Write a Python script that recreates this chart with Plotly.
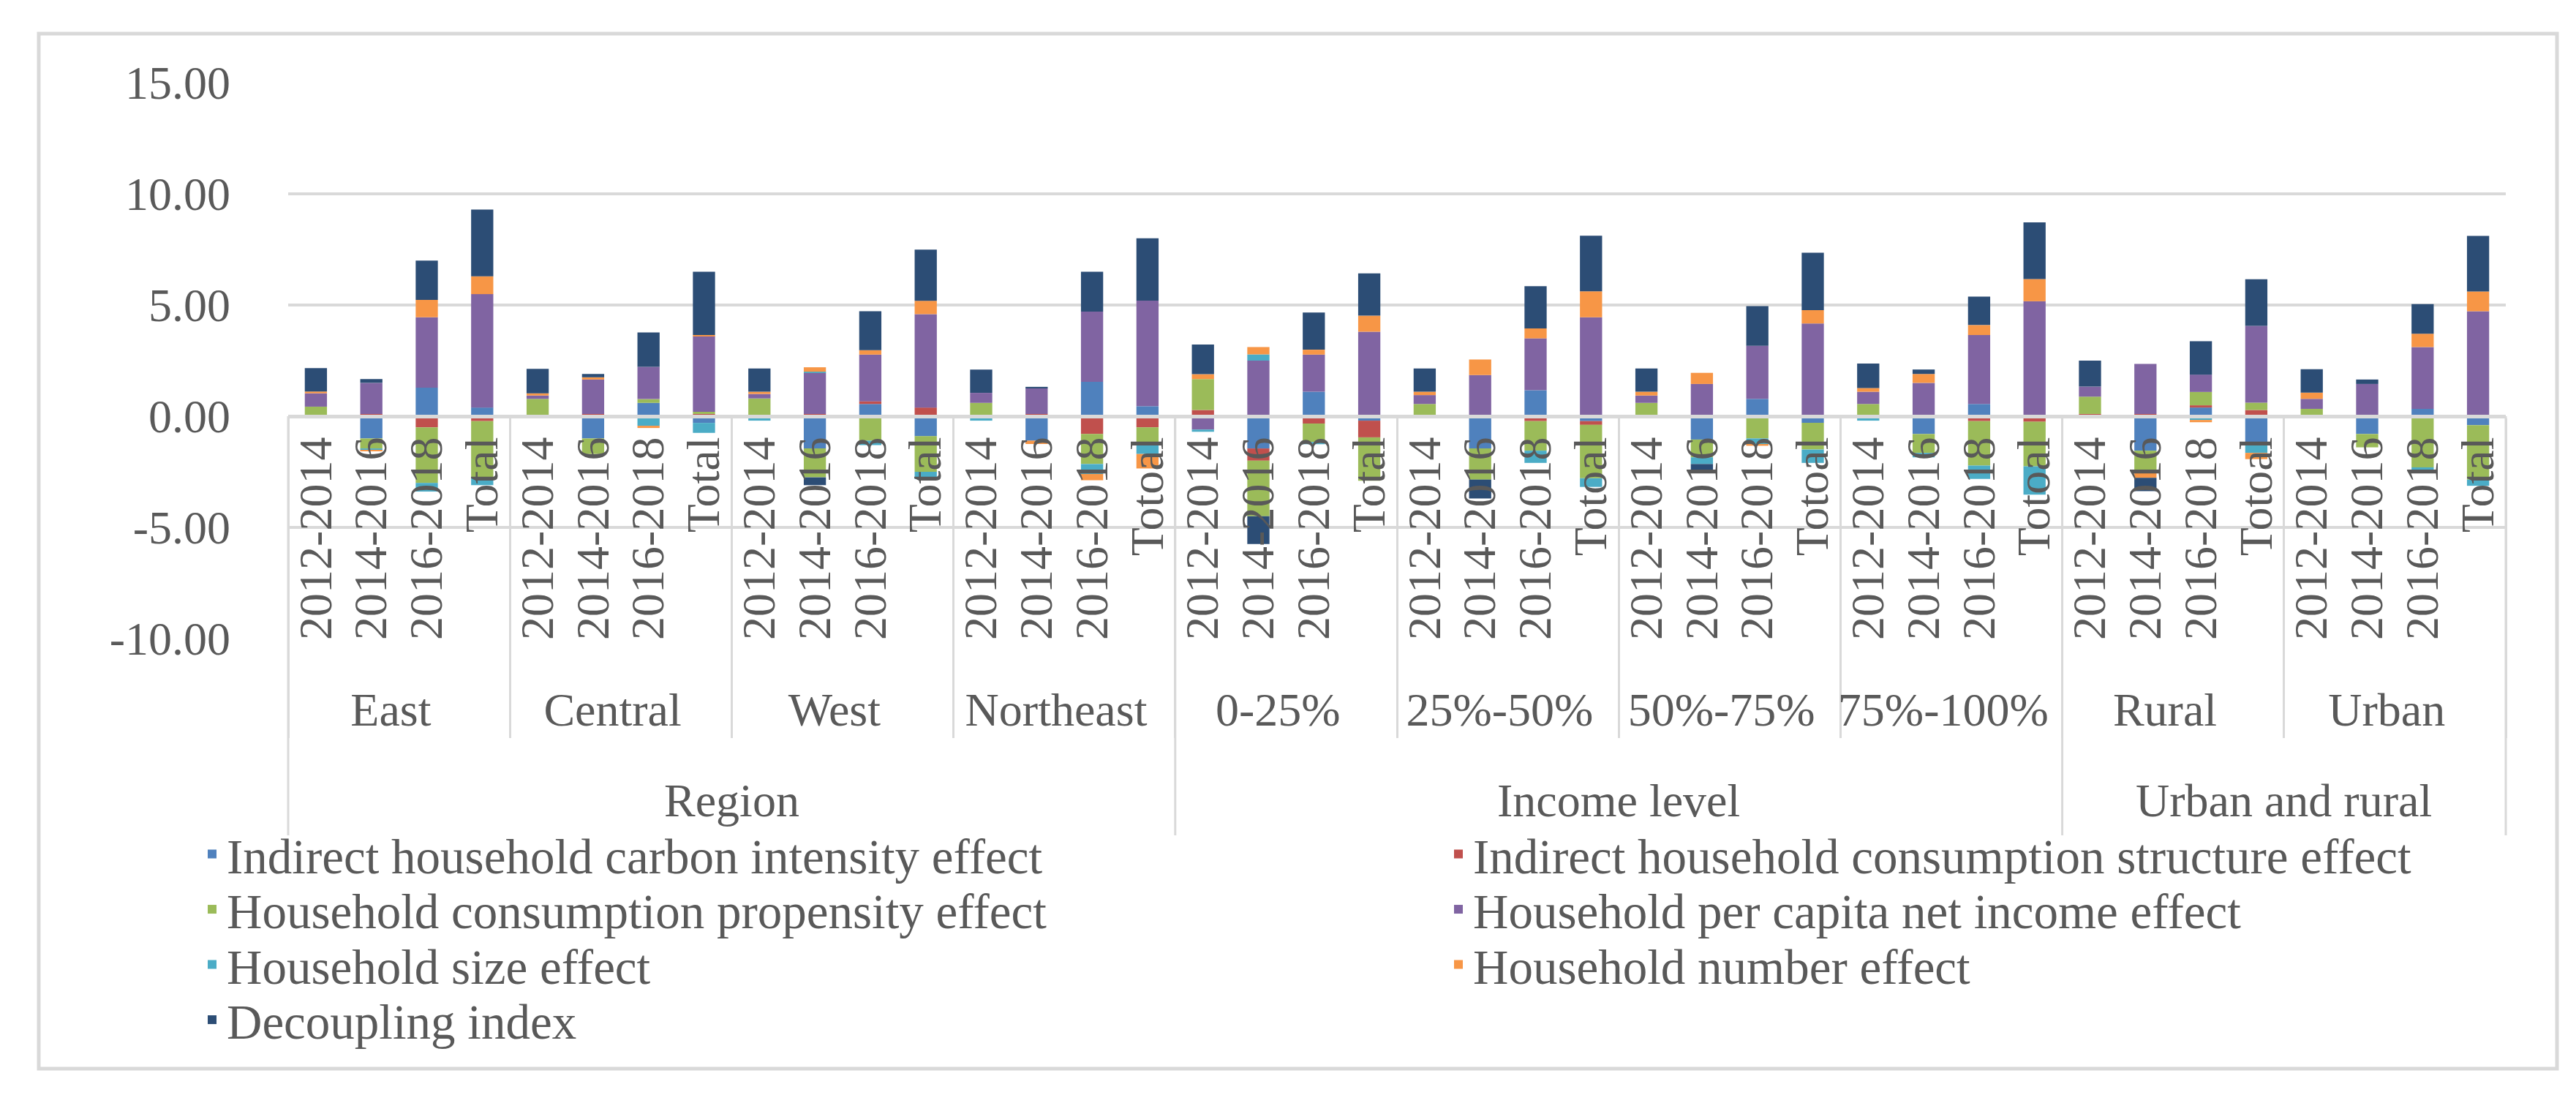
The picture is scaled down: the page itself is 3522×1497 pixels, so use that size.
import plotly.graph_objects as go

# ---------------- data ----------------
groups = ["East", "Central", "West", "Northeast", "0-25%", "25%-50%",
          "50%-75%", "75%-100%", "Rural", "Urban"]
period_labels = [
    ["2012-2014", "2014-2016", "2016-2018", "Total"],
    ["2012-2014", "2014-2016", "2016-2018", "Total"],
    ["2012-2014", "2014-2016", "2016-2018", "Total"],
    ["2012-2014", "2014-2016", "2016-2018", "Totoal"],
    ["2012-2014", "2014-2016", "2016-2018", "Total"],
    ["2012-2014", "2014-2016", "2016-2018", "Totoal"],
    ["2012-2014", "2014-2016", "2016-2018", "Totoal"],
    ["2012-2014", "2014-2016", "2016-2018", "Totoal"],
    ["2012-2014", "2014-2016", "2016-2018", "Totoal"],
    ["2012-2014", "2014-2016", "2016-2018", "Total"],
]
top_levels = ["Region", "Income level", "Urban and rural"]
top_level_group_counts = [4, 4, 2]

carbon_intensity = [0.0, -1.0, 1.28, 0.39,  0.0, -1.0, 0.6, -0.3,  0.0, -1.45, 0.55, -0.9,
                    0.0, -1.1, 1.55, 0.45,  0.0, -1.45, 1.1, -0.2,  0.0, -1.45, 1.17, -0.22,
                    0.0, -1.05, 0.78, -0.3,  0.0, -0.8, 0.55, -0.05,  0.0, -1.55, 0.39, -1.2,
                    0.0, -0.8, 0.33, -0.4]
consumption_structure = [0.03, 0.1, -0.5, -0.22,  0.03, 0.1, -0.1, 0.1,  0.0, 0.1, 0.12, 0.39,
                         0.0, 0.1, -0.8, -0.5,  0.28, -0.55, -0.33, -0.75,  0.0, 0.0, -0.22, -0.17,
                         0.0, 0.0, 0.0, 0.0,  0.0, 0.0, -0.22, -0.2,  0.1, 0.1, 0.1, 0.28,
                         0.0, 0.0, 0.0, 0.0]
consumption_propensity = [0.4, -0.45, -2.5, -2.55,  0.75, -0.7, 0.17, 0.1,  0.8, -1.3, -1.1, -1.6,
                          0.6, 0.0, -1.35, -0.8,  1.39, -2.5, -0.83, -1.95,  0.55, -1.4, -1.33, -2.4,
                          0.6, -0.8, -1.0, -1.2,  0.55, -0.85, -2.0, -2.0,  0.78, -1.0, 0.6, 0.33,
                          0.33, -0.6, -2.3, -2.45]
per_capita_income = [0.6, 1.4, 3.17, 5.1,  0.15, 1.55, 1.45, 3.4,  0.2, 1.85, 2.1, 4.2,
                     0.45, 1.17, 3.15, 4.75,  -0.6, 2.5, 1.67, 3.8,  0.4, 1.85, 2.33, 4.45,
                     0.33, 1.45, 2.39, 4.17,  0.55, 1.5, 3.1, 5.17,  0.45, 2.25, 0.78, 3.45,
                     0.45, 1.45, 2.78, 4.72]
household_size = [-0.1, -0.08, -0.39, -0.33,  -0.05, 0.0, -0.33, -0.45,  -0.2, 0.05, -0.2, -0.33,
                  -0.2, 0.0, -0.45, -0.4,  -0.1, 0.28, -0.1, 0.0,  -0.05, 0.0, -0.55, -0.39,
                  -0.05, -0.3, -0.28, -0.6,  -0.2, -0.2, -0.6, -1.28,  -0.05, 0.0, -0.17, -0.45,
                  -0.05, 0.0, -0.15, -0.28]
household_number = [0.08, -0.05, 0.78, 0.8,  0.1, 0.1, -0.1, 0.05,  0.1, 0.2, 0.2, 0.6,
                    0.0, -0.15, -0.28, -0.65,  0.22, 0.33, 0.22, 0.72,  0.15, 0.7, 0.45, 1.17,
                    0.17, 0.5, -0.05, 0.6,  0.17, 0.4, 0.45, 1.0,  -0.05, -0.22, -0.1, -0.28,
                    0.28, 0.0, 0.6, 0.89]
decoupling_index = [1.05, 0.17, 1.77, 3.0,  1.1, 0.15, 1.55, 2.85,  1.05, -0.35, 1.75, 2.3,
                    1.05, 0.05, 1.8, 2.8,  1.33, -1.25, 1.67, 1.9,  1.05, -0.85, 1.9, 2.5,
                    1.05, -0.3, 1.78, 2.58,  1.1, 0.2, 1.28, 2.55,  1.17, -0.6, 1.5, 2.1,
                    1.05, 0.2, 1.33, 2.5]

series_names = ["Indirect household carbon intensity effect",
                "Indirect household consumption structure effect",
                "Household consumption propensity effect",
                "Household per capita net income effect",
                "Household size effect",
                "Household number effect",
                "Decoupling index"]
series_values = [carbon_intensity, consumption_structure, consumption_propensity,
                 per_capita_income, household_size, household_number, decoupling_index]
series_colors = ["#4F81BD", "#C0504D", "#9BBB59", "#8064A2", "#4BACC6", "#F79646", "#2C4D75"]

y_tick_values = [-10, -5, 0, 5, 10, 15]
y_tick_text = ["-10.00", "-5.00", "0.00", "5.00", "10.00", "15.00"]

# ---------------- figure ----------------
outer = [g for g, labs in zip(groups, period_labels) for _ in labs]
inner = [p for labs in period_labels for p in labs]
n_cat = len(inner)

W, H = 3522, 1497
ML, MR, MT, MB = 386, 104, 105, 632
plot_w = W - ML - MR
plot_h = H - MT - MB
y_min, y_max = -10, 15
zero_pos = (0 - y_min) / (y_max - y_min)

def px_to_paper_y(py):
    return (H - MB - py) / plot_h

def px_to_paper_x(px):
    return (px - ML) / plot_w

GRID = "#D9D9D9"
TXT = "#595959"
FONT = "Liberation Serif"
LEG_FONT = 67

fig = go.Figure()
legend_layouts = {}
for i, (name, vals, col) in enumerate(zip(series_names, series_values, series_colors)):
    key = "legend" if i == 0 else f"legend{i + 1}"
    fig.add_trace(go.Bar(x=[outer, inner], y=vals, name=name,
                         legend=key, showlegend=True,
                         marker=dict(color=col, line=dict(width=0))))
    col_i, row_i = i % 2, i // 2
    lx = 262 if col_i == 0 else 1966
    ly = 1160 + row_i * 75.5
    legend_layouts[key] = dict(x=px_to_paper_x(lx), xanchor="left",
                               y=px_to_paper_y(ly), yanchor="middle",
                               font=dict(family=FONT, size=LEG_FONT, color=TXT),
                               bgcolor="rgba(0,0,0,0)", borderwidth=0)

fig.update_layout(
    width=W, height=H,
    margin=dict(l=ML, r=MR, t=MT, b=MB),
    plot_bgcolor="white", paper_bgcolor="white",
    barmode="relative", bargap=0.6,
    showlegend=True,
    font=dict(family=FONT, size=64, color=TXT),
    xaxis=dict(type="multicategory", anchor="free", position=zero_pos,
               range=[-0.5, n_cat - 0.5],
               tickmode="linear", tick0=0, dtick=1,
               showline=True, linecolor=GRID, linewidth=5,
               showgrid=False, ticks="", tickangle=-90,
               showdividers=True, dividercolor=GRID, dividerwidth=3,
               tickfont=dict(family=FONT, size=64, color=TXT)),
    yaxis=dict(range=[y_min, y_max], tickvals=y_tick_values, ticktext=y_tick_text,
               showgrid=True, gridcolor=GRID, gridwidth=4, zeroline=False,
               showline=False, ticks="", ticklabelstandoff=78,
               tickfont=dict(family=FONT, size=64, color=TXT)),
    **legend_layouts,
)

# long dividers for top level categories
bounds = [0]
for c in top_level_group_counts:
    bounds.append(bounds[-1] + c * 4)
for b in bounds:
    fig.add_shape(type="line", xref="paper", yref="paper",
                  x0=b / n_cat, x1=b / n_cat, y0=zero_pos, y1=px_to_paper_y(1134),
                  line=dict(color=GRID, width=3))
for i, lab in enumerate(top_levels):
    cx = (bounds[i] + bounds[i + 1]) / 2 / n_cat
    fig.add_annotation(text=lab, xref="paper", yref="paper", x=cx, y=px_to_paper_y(1086),
                       showarrow=False, font=dict(family=FONT, size=64, color=TXT),
                       xanchor="center", yanchor="middle")

# chart border
fig.add_shape(type="rect", xref="paper", yref="paper",
              x0=px_to_paper_x(45), x1=px_to_paper_x(3488),
              y0=px_to_paper_y(1453), y1=px_to_paper_y(38),
              line=dict(color=GRID, width=5), fillcolor="rgba(0,0,0,0)")

fig.write_html("out.html")
